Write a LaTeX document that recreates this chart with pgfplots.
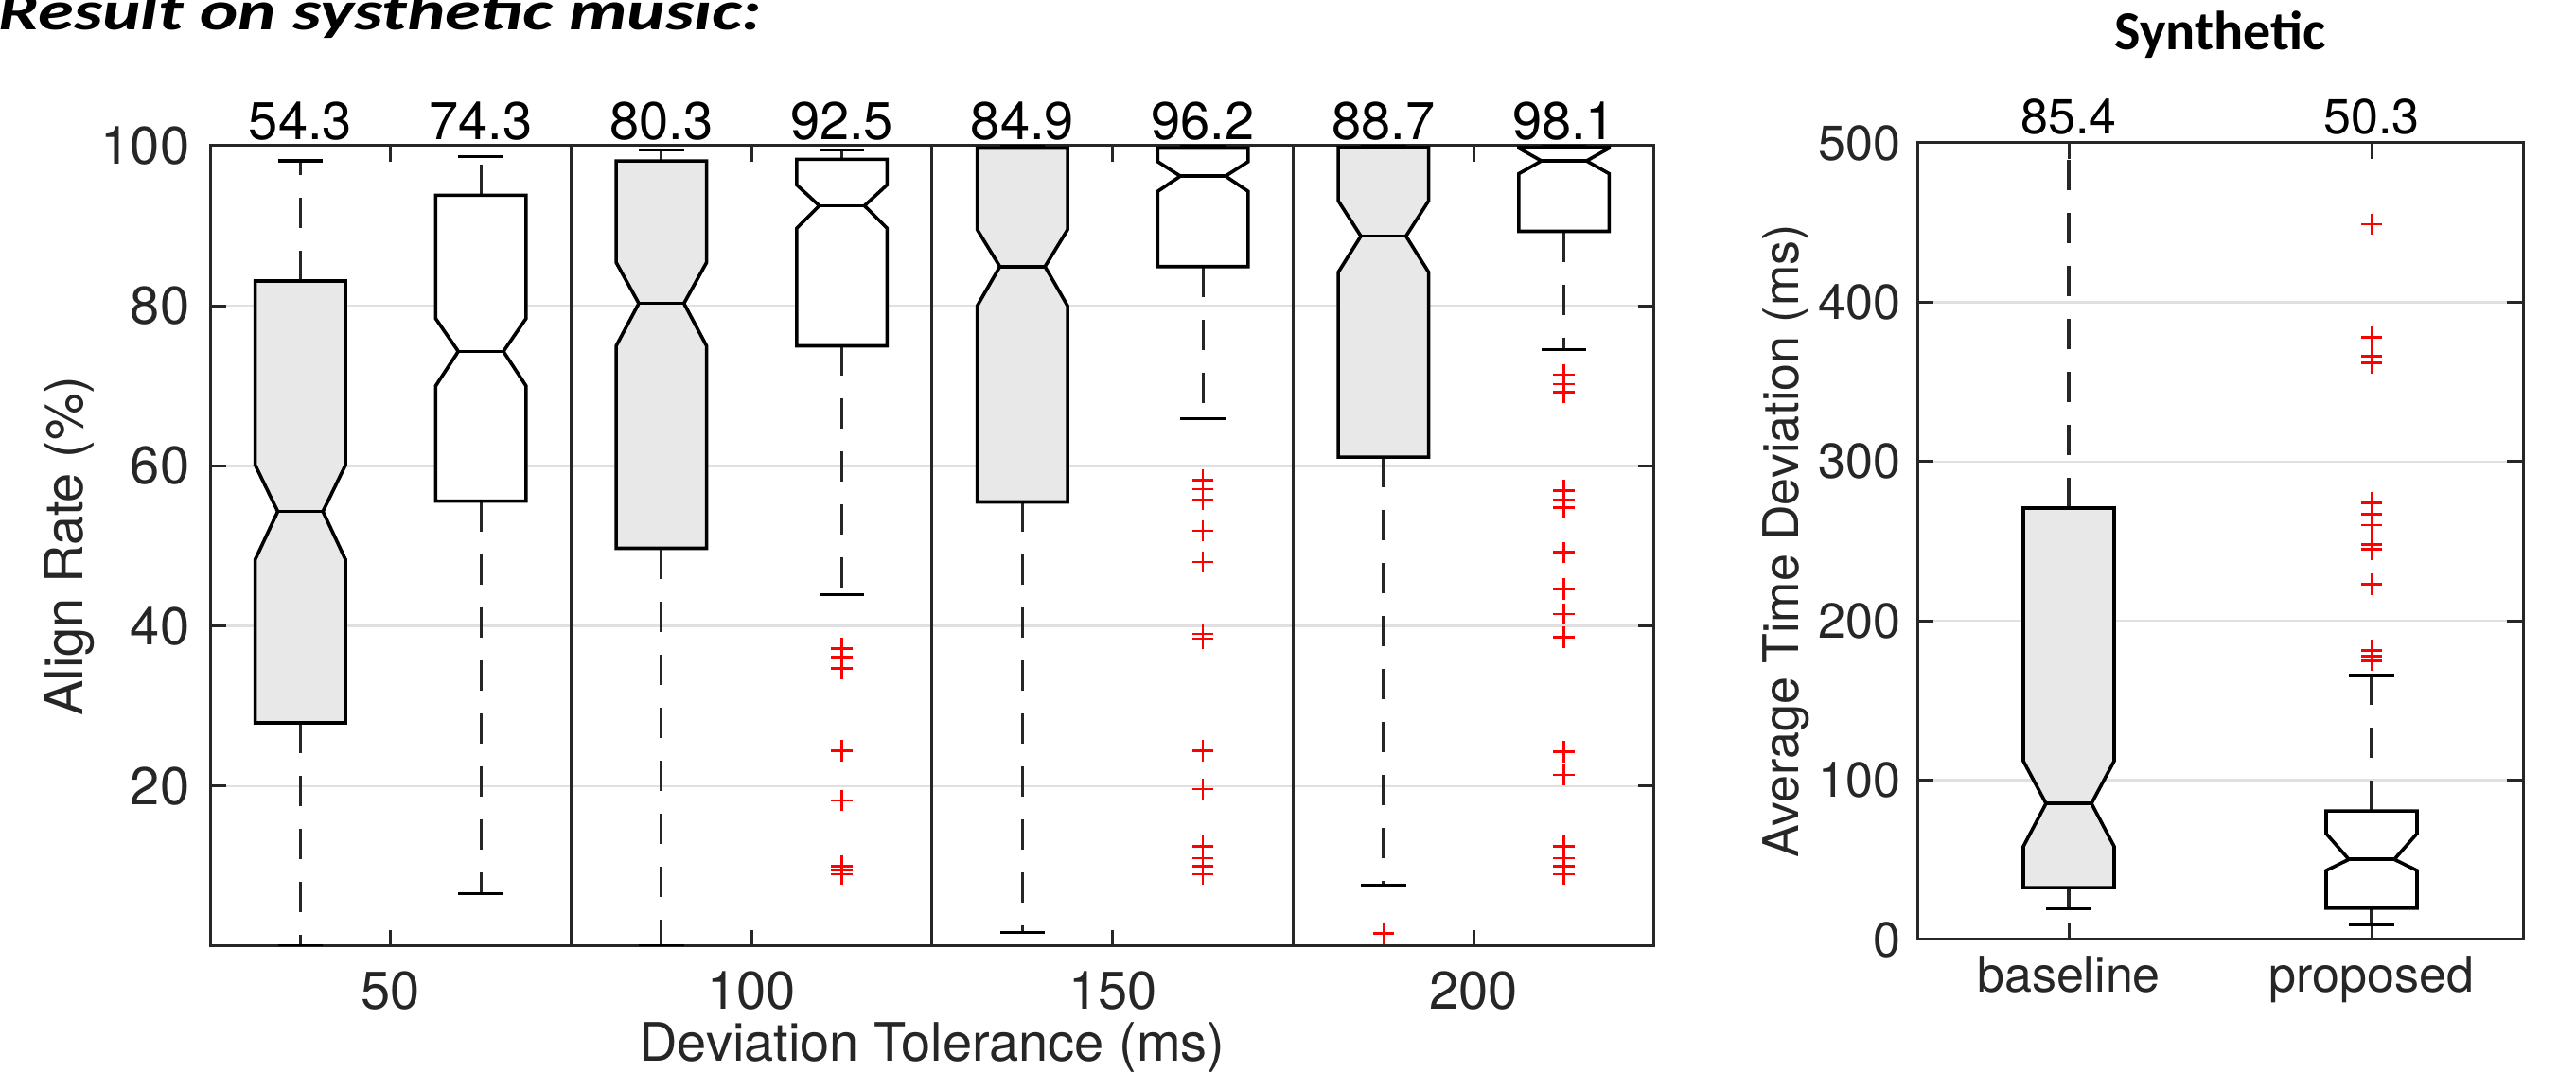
\documentclass[border=0pt]{standalone}
\usepackage{fontspec}
\setmainfont{TeX Gyre Heros}
\newfontfamily\carlito{Carlito}
\usepackage{pgfplots}
\pgfplotsset{compat=1.18}
\definecolor{axgray}{RGB}{38,38,38}
\definecolor{boxgray}{RGB}{232,232,232}
\definecolor{gridc}{RGB}{224,224,224}

\pgfplotsset{
  boxline/.style={draw=black, line width=0.9pt, line join=miter, mark=none},
  whisk/.style={draw=black!85, line width=0.8pt, dash pattern=on 8pt off 6pt, mark=none},
  capl/.style={draw=black, line width=0.8pt, mark=none},
  outl/.style={only marks, mark=+, mark size=2.8pt, draw=red, mark options={line width=0.65pt, draw=red, solid}},
  sepl/.style={draw=axgray, line width=0.75pt, mark=none},
  matlab/.style={scale only axis, clip mode=individual,
    axis line style={draw=axgray, line width=0.75pt},
    tick style={draw=axgray, line width=0.75pt},
    major tick length=4.3pt, tick align=inside,
    xtick pos=both, ytick pos=both,
    xticklabel pos=lower, yticklabel pos=left,
    ymajorgrids, grid style={draw=gridc, line width=0.6pt},
    /pgf/number format/assume math mode=true,
    tick label style={text=axgray},
    label style={text=axgray}}
}

% #1 x, #2 half width, #3 q1, #4 notch low, #5 median, #6 notch high, #7 q3, #8 lower whisker, #9 upper whisker
\newcommand\nbox[9]{%
  \pgfmathsetmacro\xl{#1-#2}\pgfmathsetmacro\xr{#1+#2}%
  \pgfmathsetmacro\xil{#1-#2/2}\pgfmathsetmacro\xir{#1+#2/2}%
  \edef\tmp{%
    \noexpand\addplot[whisk] coordinates {(#1,#7) (#1,#9)};
    \noexpand\addplot[whisk] coordinates {(#1,#3) (#1,#8)};
    \noexpand\addplot[capl] coordinates {(\xil,#9) (\xir,#9)};
    \noexpand\addplot[capl] coordinates {(\xil,#8) (\xir,#8)};
    \noexpand\addplot[boxline, fill=\boxfill] coordinates {(\xl,#3) (\xr,#3) (\xr,#4) (\xir,#5) (\xr,#6) (\xr,#7) (\xl,#7) (\xl,#6) (\xil,#5) (\xl,#4)} -- cycle;
    \noexpand\addplot[boxline] coordinates {(\xil,#5) (\xir,#5)};
  }\tmp}

\begin{document}
\begin{tikzpicture}
\begin{axis}[matlab,
  at={(55.5pt,33.25pt)}, anchor=south west,
  width=381.5pt, height=211.5pt,
  xmin=0.5, xmax=4.5, ymin=0, ymax=100,
  xtick={1,2,3,4}, xticklabels={50,100,150,200},
  ytick={20,40,60,80,100},
  tick label style={font=\fontsize{14}{16}\selectfont},
  label style={font=\fontsize{14}{16}\selectfont},
  xticklabel style={anchor=base, yshift=-16.75pt},
  yticklabel style={anchor=east, inner xsep=0pt, xshift=-5.25pt},
  xlabel={Deviation Tolerance (ms)},
  ylabel={Align Rate (\%)},
  xlabel style={at={(axis description cs:0.5,-0.1442)}, anchor=base},
  ylabel style={at={(axis description cs:-0.0975,0.5)}, anchor=center},
]
\addplot[sepl] coordinates {(1.5,0) (1.5,100)};
\addplot[sepl] coordinates {(2.5,0) (2.5,100)};
\addplot[sepl] coordinates {(3.5,0) (3.5,100)};

\def\boxfill{boxgray}
\nbox{0.75}{0.125}{27.9}{48.3}{54.3}{60.1}{83.1}{0}{98.1}
\nbox{1.75}{0.125}{49.7}{75.0}{80.3}{85.4}{98.1}{0}{99.5}
\nbox{2.75}{0.125}{55.5}{80.0}{84.9}{89.5}{99.7}{1.7}{100}
\nbox{3.75}{0.125}{61.1}{84.2}{88.7}{93.1}{99.8}{7.6}{100}
\def\boxfill{white}
\nbox{1.25}{0.125}{55.6}{70.0}{74.3}{78.4}{93.8}{6.6}{98.6}
\nbox{2.25}{0.125}{75.0}{89.7}{92.5}{95.1}{98.3}{43.9}{99.5}
\nbox{3.25}{0.125}{84.9}{94.3}{96.2}{98.0}{99.7}{65.9}{100}
\nbox{4.25}{0.125}{89.3}{96.5}{98.1}{99.7}{99.8}{74.5}{100}

\addplot[outl] coordinates {(2.25,37.2) (2.25,36.1) (2.25,34.7) (2.25,24.4) (2.25,18.2) (2.25,10.0) (2.25,9.5) (2.25,9.0)};
\addplot[outl] coordinates {(3.25,58.2) (3.25,57.1) (3.25,55.8) (3.25,51.9) (3.25,48.0) (3.25,39.0) (3.25,38.4) (3.25,24.4) (3.25,19.6) (3.25,12.5) (3.25,11.0) (3.25,10.0) (3.25,9.0)};
\addplot[outl] coordinates {(3.75,1.6)};
\addplot[outl] coordinates {(4.25,71.4) (4.25,70.2) (4.25,69.2) (4.25,56.9) (4.25,55.8) (4.25,54.8) (4.25,49.2) (4.25,44.6) (4.25,41.5) (4.25,38.6) (4.25,24.3) (4.25,21.4) (4.25,12.5) (4.25,11.0) (4.25,10.0) (4.25,9.0)};

\tikzset{mlab/.style={anchor=base, yshift=1.5pt, inner sep=0pt, text=black, font=\fontsize{14}{16}\selectfont}}
\node[mlab] at (axis cs:0.75,100) {54.3};
\node[mlab] at (axis cs:1.25,100) {74.3};
\node[mlab] at (axis cs:1.75,100) {80.3};
\node[mlab] at (axis cs:2.25,100) {92.5};
\node[mlab] at (axis cs:2.75,100) {84.9};
\node[mlab] at (axis cs:3.25,100) {96.2};
\node[mlab] at (axis cs:3.75,100) {88.7};
\node[mlab] at (axis cs:4.25,100) {98.1};
\end{axis}

\begin{axis}[matlab,
  at={(506.5pt,35pt)}, anchor=south west,
  width=160pt, height=210.5pt,
  xmin=0.5, xmax=2.5, ymin=0, ymax=500,
  xtick={1,2}, xticklabels={baseline,proposed},
  ytick={0,100,200,300,400,500},
  tick label style={font=\fontsize{13}{15}\selectfont},
  label style={font=\fontsize{13}{15}\selectfont},
  xticklabel style={anchor=base, yshift=-14pt},
  yticklabel style={anchor=east, inner xsep=0pt, xshift=-4.25pt},
  ylabel={Average Time Deviation (ms)},
  ylabel style={at={(axis description cs:-0.217,0.5)}, anchor=center},
  title={Synthetic},
  title style={at={(axis description cs:0.5,1)}, anchor=base, yshift=18.5pt, inner sep=0pt, font=\carlito\bfseries\fontsize{14.5}{16}\selectfont, text=black},
]
\def\boxfill{boxgray}
\nbox{1}{0.15}{32.6}{58.4}{85.4}{112}{270.8}{19.3}{530}
\def\boxfill{white}
\nbox{2}{0.15}{19.7}{43.3}{50.3}{66.5}{80.7}{9.0}{165.7}
\addplot[outl] coordinates {(2,449) (2,378) (2,366) (2,362) (2,274) (2,267) (2,260) (2,248) (2,245) (2,223) (2,181.5) (2,178) (2,175)};
\tikzset{mlab2/.style={anchor=base, yshift=2.25pt, inner sep=0pt, text=black, font=\fontsize{13}{15}\selectfont}}
\node[mlab2] at (axis cs:1,500) {85.4};
\node[mlab2] at (axis cs:2,500) {50.3};
\end{axis}

\node[anchor=base west, inner sep=0pt, font=\carlito\bfseries\itshape\fontsize{14.5}{16}\selectfont] at (-0.5pt,275.25pt) {\scalebox{1.32}[1]{Result on systhetic music:}};

\pgfresetboundingbox
\path[use as bounding box] (0pt,0pt) rectangle (680.5pt,283.25pt);
\end{tikzpicture}
\end{document}
